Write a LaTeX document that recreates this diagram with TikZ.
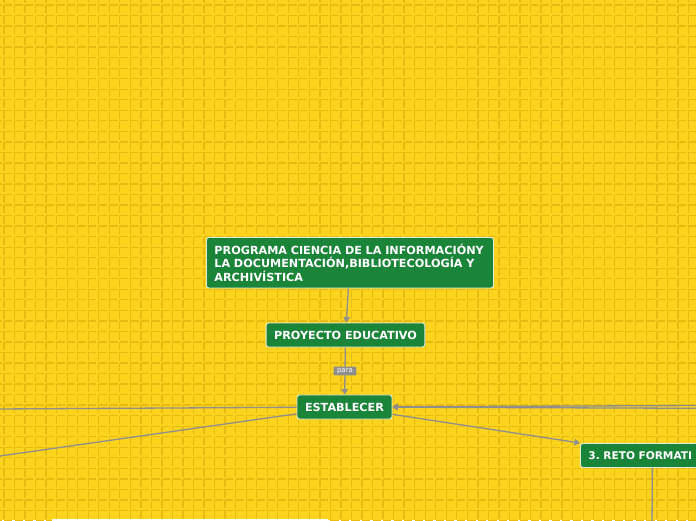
\documentclass[tikz,border=0pt]{standalone}
\usepackage{fontspec}
\setmainfont{DejaVu Sans}
\usetikzlibrary{arrows.meta}
\definecolor{bgyellow}{HTML}{FCD41E}
\definecolor{tiledark}{HTML}{E8BB12}
\definecolor{boxgreen}{HTML}{1A8538}
\definecolor{linkgray}{HTML}{8E8E8E}

\begin{document}
\begin{tikzpicture}[x=1pt,y=-1pt]
\tikzstyle{topic}=[draw=white!85!boxgreen,line width=0.9pt,fill=boxgreen,rounded corners=2.5pt,
  text=white,font=\fontsize{11.2}{13.7}\selectfont\bfseries,inner xsep=8pt,minimum height=24pt]
\tikzstyle{edge} = [draw,linkgray,line width=1.3pt]
\tikzstyle{arrowedge} = [edge,-{Triangle[width=6.5pt,length=5.5pt]}]
\tikzstyle{weight} = [fill=linkgray,text=white,font=\fontsize{7}{7}\selectfont,inner xsep=3.5pt,inner ysep=1.8pt,rounded corners=1pt]
\tikzstyle{tileline} = [tiledark,line width=1.3pt,dash pattern=on 8.2pt off 2.33pt]
\def \tile {10.53}
\useasboundingbox (0,0) rectangle (696,520);
\clip (0,0) rectangle (696,520);
% background tiles
\fill[bgyellow] (0,0) rectangle (696,520);
\foreach \i in {-1,...,66} {
  \draw[tileline] ({4+\i*\tile},{5-\tile}) -- ++(0,545);
}
\foreach \j in {-1,...,50} {
  \draw[tileline] ({4-\tile},{5+\j*\tile}) -- ++(715,0);
}
% nodes
\node[topic,anchor=north west,text width=271pt,align=left,inner ysep=6.3pt] (prog) at (206,237)
  {PROGRAMA CIENCIA DE LA INFORMACIÓNY LA DOCUMENTACIÓN,BIBLIOTECOLOGÍA Y ARCHIVÍSTICA};
\node[topic] (proy) at (345.5,335) {PROYECTO EDUCATIVO};
\node[topic] (estab) at (344.5,407) {ESTABLECER};
\node[topic,anchor=north west,text width=128pt,align=left,font=\fontsize{10.6}{13}\selectfont\bfseries] (reto) at (580,443) {3.~RETO FORMATI};
\node[fill=white,anchor=north west,minimum width=276pt,minimum height=30pt,inner sep=0pt] (low) at (52,519) {};
% free ends off the page
\coordinate (w1) at (-5,409);
\coordinate (w2) at (-5,456.7);
\coordinate (e1) at (700,405.5);
\coordinate (e2) at (700,408.3);
\coordinate (s1) at (652,530);
% links
\path[arrowedge] (prog) -- (proy);
\path[arrowedge] (proy) -- node[weight] {para} (estab);
\path[edge] (estab) -- (w1);
\path[edge] (estab) -- (w2);
\path[arrowedge] (e1) -- (estab);
\path[arrowedge] (e2) -- (estab);
\path[arrowedge] (estab) -- (reto.north west);
\path[edge] (reto) -- (s1);
\end{tikzpicture}
\end{document}
